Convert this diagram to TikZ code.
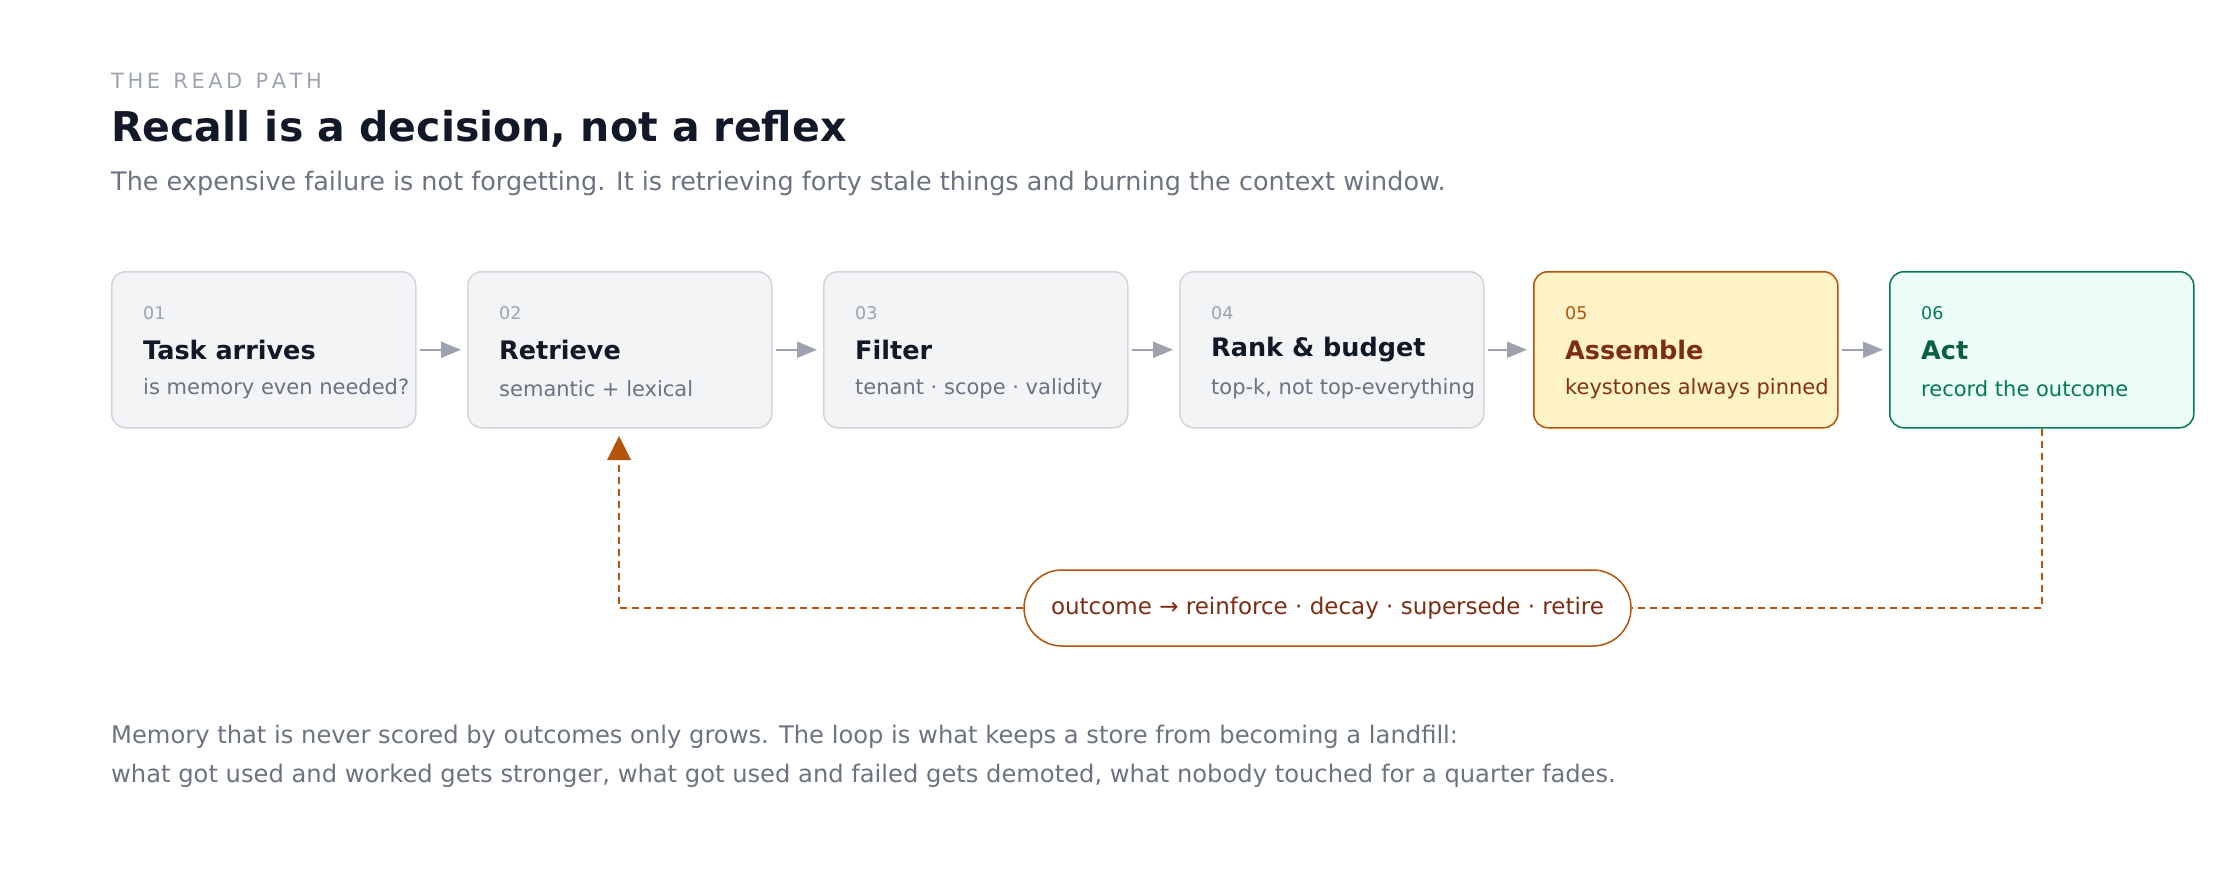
\documentclass[tikz,border=0pt]{standalone}
\usepackage{fontspec}
\setmainfont{DejaVu Sans}
\usetikzlibrary{arrows.meta}
\definecolor{gbox}{HTML}{F3F4F6}\definecolor{gbord}{HTML}{D1D5DB}
\definecolor{gtxt}{HTML}{6B7280}\definecolor{gnum}{HTML}{9CA3AF}
\definecolor{dark}{HTML}{111827}\definecolor{orng}{HTML}{B45309}
\definecolor{ybox}{HTML}{FEF3C7}\definecolor{brn}{HTML}{7C2D12}
\definecolor{grbox}{HTML}{ECFDF5}\definecolor{grn}{HTML}{047857}\definecolor{grt}{HTML}{065F46}
\begin{document}
\begin{tikzpicture}[x=1pt,y=-1pt,
 box/.style={draw=gbord,fill=gbox,line width=1.5pt,rounded corners=14pt,minimum width=304pt,minimum height=156pt,inner sep=0pt},
 txt/.style={anchor=west,inner sep=0pt},
 num/.style={txt,font=\fontsize{17.5}{20}\selectfont,text=gnum},
 ttl/.style={txt,font=\fontsize{25.5}{30}\selectfont\bfseries,text=dark},
 sub/.style={txt,font=\fontsize{21}{25}\selectfont,text=gtxt},
 flow/.style={draw=gnum,line width=2pt,-{Triangle[length=20pt,width=16pt]}},
 loop/.style={draw=orng,line width=2pt,dash pattern=on 7pt off 5pt}]
\useasboundingbox (0,0) rectangle (2240,896);
\node[txt,font=\fontsize{21}{24}\selectfont,text=gnum] (kick) at (111,81) {T\,H\,E\ \ R\,E\,A\,D\ \ P\,A\,T\,H};
\node[txt,font=\fontsize{41}{48}\selectfont\bfseries,text=dark] (title) at (111,129) {Recall is a decision, not a reflex};
\node[txt,font=\fontsize{25.5}{30}\selectfont,text=gtxt] (lead) at (111,183) {The expensive failure is not forgetting. It is retrieving forty stale things and burning the context window.};
\foreach \i/\n/\t/\s [count=\k from 0] in {1/01/Task arrives/is memory even needed?,2/02/Retrieve/semantic + lexical,3/03/Filter/tenant · scope · validity,4/04/Rank \& budget/{top-k, not top-everything}}{
 \node[box,anchor=north west] (b\i) at (111+356*\k,271) {};
 \node[num] (n\i) at (143+356*\k,313) {\n};
 \node[ttl] (t\i) at (143+356*\k,350) {\t};
 \node[sub] (s\i) at (143+356*\k,389) {\s};
}
\node[box,anchor=north west,fill=ybox,draw=orng] (b5) at (1533,271) {};
\node[num,text=orng] (n5) at (1565,313) {05};
\node[ttl,text=brn] (t5) at (1565,350) {Assemble};
\node[sub,text=brn!85!orng] (s5) at (1565,389) {keystones always pinned};
\node[box,anchor=north west,fill=grbox,draw=grn] (b6) at (1889,271) {};
\node[num,text=grn] (n6) at (1921,313) {06};
\node[ttl,text=grt] (t6) at (1921,350) {Act};
\node[sub,text=grn] (s6) at (1921,389) {record the outcome};
\foreach \a/\b in {1/2,2/3,3/4,4/5,5/6}{
 \draw[flow] ([xshift=3pt]b\a.east) -- ([xshift=-6pt]b\b.west);
}
\node[draw=orng,line width=1.5pt,fill=white,rounded corners=38pt,minimum width=607pt,minimum height=76pt,text=brn,font=\fontsize{23}{27}\selectfont] (pill) at (1327.5,608) {outcome → reinforce · decay · supersede · retire};
\coordinate (tip) at (619,436);
\draw[loop] (b6.south) |- (pill.east);
\draw[loop] (pill.west) -| ([yshift=-22pt]tip);
\fill[orng] (tip) -- ++(-12,24) -- ++(24,0) -- cycle;
\node[txt,font=\fontsize{24.2}{29}\selectfont,text=gtxt] (f1) at (111,737) {Memory that is never scored by outcomes only grows. The loop is what keeps a store from becoming a landfill:};
\node[txt,font=\fontsize{24.2}{29}\selectfont,text=gtxt] (f2) at (111,776) {what got used and worked gets stronger, what got used and failed gets demoted, what nobody touched for a quarter fades.};
\end{tikzpicture}
\end{document}
